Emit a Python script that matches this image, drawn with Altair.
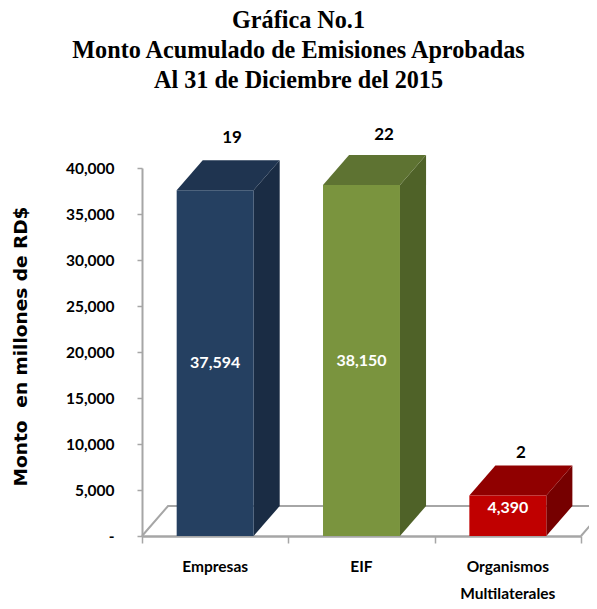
import altair as alt
import pandas as pd

categories = ["Empresas", "EIF", "Organismos\nMultilaterales"]
montos = [37594, 38150, 4390]
etiquetas = ["37,594", "38,150", "4,390"]
cantidades = ["19", "22", "2"]
etiqueta_y = [18800, 19075, 3040]
cantidad_x = [0.615, 1.654, 2.59]
cantidad_y = [43260, 43590, 9020]
color_frente = ["#254061", "#7a943e", "#c00000"]
color_lado = ["#1a2c44", "#4f6228", "#760000"]
color_tope = ["#1f3450", "#5e7332", "#900000"]
y_ticks = [0, 5000, 10000, 15000, 20000, 25000, 30000, 35000, 40000]
x_ticks = [0, 1, 2, 3]
medio_ancho = 0.263
fondo_x = 0.178
fondo_y = 3260

NARROW = "Lato"
GREY = "#a6a6a6"

xs = alt.Scale(domain=[0, 3], nice=False, zero=False)
ys = alt.Scale(domain=[0, 40000], nice=False)
X = alt.X("x:Q", scale=xs, title=None,
          axis=alt.Axis(values=x_ticks, labels=False, grid=False, tickSize=7, tickColor=GREY,
                        tickWidth=1.5, domainColor=GREY, domainWidth=2.5))
Y = alt.Y("y:Q", scale=ys, title="Monto\u00a0\u00a0en millones de RD$",
          axis=alt.Axis(values=y_ticks, grid=False, tickSize=5, tickColor=GREY, tickWidth=1.5,
                        domainColor=GREY, domainWidth=2, labelFont=NARROW, labelFontWeight="bold",
                        labelFontSize=15.5, labelColor="black", labelPadding=23,
                        labelExpr="datum.value === 0 ? '-\u00a0\u00a0' : format(datum.value, ',')",
                        titleFont="DejaVu Sans", titleFontWeight="bold", titleFontSize=18.5,
                        titleColor="black", titleX=-112, titleY=178, titleAngle=270))

# piso (plano de fondo)
piso = pd.DataFrame({
    "x": [0, fondo_x, 3 + fondo_x, 3],
    "y": [0, fondo_y, fondo_y, 0],
    "s": [0, 1, 2, 3],
})
capa_piso = alt.Chart(piso).mark_line(color=GREY, strokeWidth=2, clip=False).encode(
    x=X, y=Y, order="s:Q")

layers = [capa_piso]
for i, v in enumerate(montos):
    c = i + 0.5
    l, r = c - medio_ancho, c + medio_ancho
    lado_df = pd.DataFrame({"x": [r, r + fondo_x], "y": [0, fondo_y], "y2": [v, v + fondo_y]})
    tope_df = pd.DataFrame({
        "x": [l, l + fondo_x, r, r + fondo_x],
        "y": [v, v, v, v + fondo_y],
        "y2": [v, v + fondo_y, v + fondo_y, v + fondo_y],
    })
    frente_df = pd.DataFrame({"x": [l, r], "y": [0, 0], "y2": [v, v]})
    for df, col in ((lado_df, color_lado[i]), (tope_df, color_tope[i]), (frente_df, color_frente[i])):
        layers.append(alt.Chart(df).mark_area(color=col, clip=False, interpolate="linear").encode(
            x=alt.X("x:Q", scale=xs), y=alt.Y("y:Q", scale=ys), y2="y2:Q"))

valores = pd.DataFrame({"x": [i + 0.5 for i in range(3)], "y": etiqueta_y, "t": etiquetas})
capa_valores = alt.Chart(valores).mark_text(font=NARROW, fontWeight="bold", fontSize=16, color="white").encode(
    x=alt.X("x:Q", scale=xs), y=alt.Y("y:Q", scale=ys), text="t:N")

cant = pd.DataFrame({"x": cantidad_x, "y": cantidad_y, "t": cantidades})
capa_cant = alt.Chart(cant).mark_text(font=NARROW, fontWeight="bold", fontSize=17, color="black").encode(
    x=alt.X("x:Q", scale=xs), y=alt.Y("y:Q", scale=ys), text="t:N")

cats = pd.DataFrame({"x": [i + 0.5 for i in range(3)], "y": [0, 0, 0], "t": categories})
capa_cats = alt.Chart(cats).mark_text(font=NARROW, fontWeight="bold", fontSize=15.5, color="black",
                                      lineBreak="\n", lineHeight=27, baseline="top", dy=24).encode(
    x=alt.X("x:Q", scale=xs), y=alt.Y("y:Q", scale=ys), text="t:N")

chart = alt.layer(*layers, capa_valores, capa_cant, capa_cats).properties(
    width=439, height=368,
    padding={"left": 134, "top": 160, "right": 8, "bottom": 65},
    autosize=alt.AutoSizeParams(type="none"),
    title=alt.TitleParams(
        text=["Gráfica No.1", "Monto Acumulado de Emisiones Aprobadas", "Al 31 de Diciembre del 2015"],
        font="Liberation Serif", fontWeight="bold", fontSize=24.2, lineHeight=30, color="black",
        anchor="middle", dx=-63, offset=33),
).configure_view(stroke=None).resolve_scale(x="shared", y="shared")

chart.save("out.html", embed_options={"renderer": "svg", "actions": False})
